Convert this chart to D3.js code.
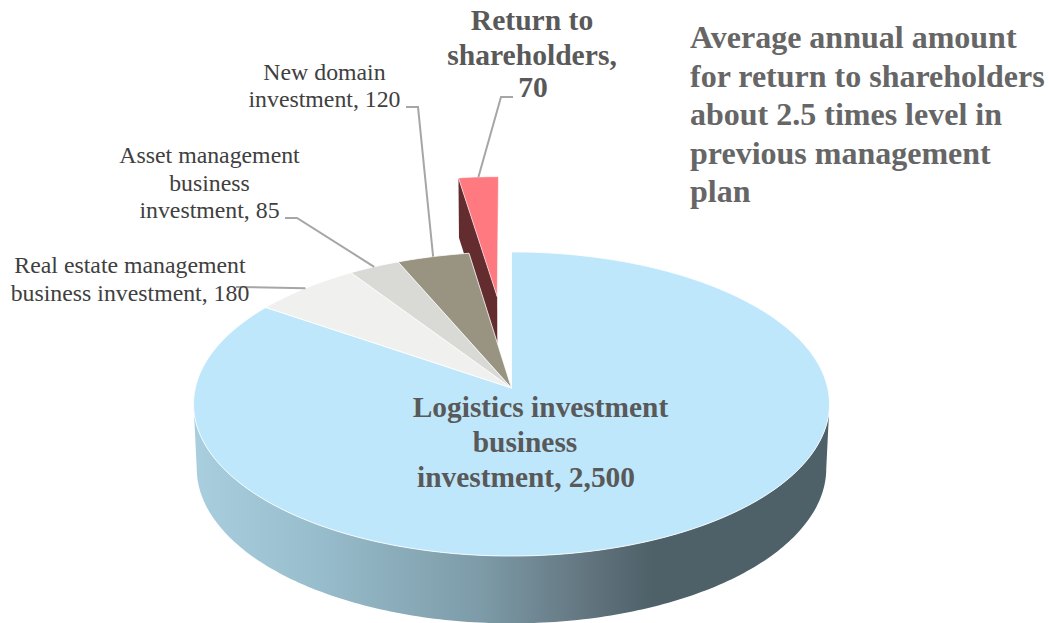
<!DOCTYPE html>
<html lang="en">
<head>
  <meta charset="UTF-8">
  <title>Investment plan</title>
  <script src="https://d3js.org/d3.v7.min.js"></script>
  <style>
    html, body { margin: 0; padding: 0; background: #fff; overflow: hidden; }
    svg { display: block; }
    text { font-family: "Liberation Serif", serif; }
  </style>
</head>
<body>
  <svg width="1049" height="623"></svg>

  <script>
    // data
    var categories = ["Logistics investment business investment", "Real estate management business investment",
      "Asset management business investment", "New domain investment", "Return to shareholders"]
    var values = [2500, 180, 85, 120, 70]
    var explode = [0, 0, 0, 0, 0.65]
    var colors = ["#bfe7fb", "#f0f0ee", "#d9d9d5", "#999482", "#ff7a80"]
    var noteLines = ["Average annual amount", "for return to shareholders", "about 2.5 times level in",
      "previous management", "plan"]

    var svg = d3.select("svg")

    // perspective of the tilted disc: k makes the near side bigger
    var k = 0.105
    var xScale = d3.scaleLinear().domain([-1, 1]).range([511.5 - 316.2, 511.5 + 316.2])
    var yScale = d3.scaleLinear().domain([-1, 1]).range([388 - 150.4, 388 + 150.4])

    function project(u, v, lower) {
      var w = 1 - k * v
      var x = xScale(u / w), y = yScale(v / w)
      if (lower) {
        x = 511.5 + (x - 511.5) * 0.99
        y = 388 + (y - 388) * 1.02 + 64
      }
      return [x, y]
    }
    // angle is clockwise from 12 o'clock, e pushes the slice out along its bisector
    function onDisc(angle, r, d, lower) {
      var mid = (d.startAngle + d.endAngle) / 2
      var e = d.explode
      return project(r * Math.sin(angle) + e * Math.sin(mid), -r * Math.cos(angle) - e * Math.cos(mid), lower)
    }
    function rim(d, a0, a1, lower) {
      var n = Math.ceil(Math.abs(a1 - a0) * 60) + 1
      return d3.range(n + 1).map(function(i) { return onDisc(a0 + (a1 - a0) * i / n, 1, d, lower) })
    }

    var pie = d3.pie().sort(null).value(function(d) { return d.value })
    var slices = pie(categories.map(function(c, i) {
      return { name: c, value: values[i], explode: explode[i], color: colors[i] }
    }))
    slices.forEach(function(d) { d.explode = d.data.explode })

    var line = d3.line()

    // wall gradient
    var grad = svg.append("defs").append("linearGradient")
      .attr("id", "wall")
      .attr("gradientUnits", "userSpaceOnUse")
      .attr("x1", 194).attr("x2", 830).attr("y1", 0).attr("y2", 0)
    var stops = [[0, "#a9cfdf"], [0.2, "#97bccb"], [0.45, "#7d9ba8"], [0.62, "#62757f"], [0.72, "#4e6068"], [1, "#4e6068"]]
    grad.selectAll("stop").data(stops).enter().append("stop")
      .attr("offset", function(d) { return d[0] })
      .attr("stop-color", function(d) { return d[1] })

    // pulled out slice goes behind the disc
    var ret = slices[4]
    var retApex = onDisc(0, 0, ret), retApexLow = onDisc(0, 0, ret, true)
    var retLeft = onDisc(ret.startAngle, 1, ret), retLeftLow = onDisc(ret.startAngle, 1, ret, true)
    svg.append("path")
      .attr("d", line([retLeft, retApex, retApexLow, retLeftLow]) + "Z")
      .attr("fill", "#632d30")
    svg.append("path")
      .attr("d", line([retApex].concat(rim(ret, ret.startAngle, ret.endAngle))) + "Z")
      .attr("fill", ret.data.color)
      .attr("stroke", "#fff").attr("stroke-width", 0.8).attr("stroke-opacity", 0.7)

    // front wall of the disc
    var a0 = Math.acos(-k), a1 = 2 * Math.PI - a0
    var wallTop = rim(slices[0], a0, a1)
    var wallLow = rim(slices[0], a1, a0, true)
    svg.append("path")
      .attr("d", line(wallTop.concat(wallLow)) + "Z")
      .attr("fill", "url(#wall)")

    // top faces
    svg.append("g").selectAll("path")
      .data(slices.slice(0, 4))
      .enter()
      .append("path")
      .attr("d", function(d) {
        return line([onDisc(0, 0, d)].concat(rim(d, d.startAngle, d.endAngle))) + "Z"
      })
      .attr("fill", function(d) { return d.data.color })
      .attr("stroke", "#fff")
      .attr("stroke-width", 1)
      .attr("stroke-opacity", 0.8)
      .attr("stroke-linejoin", "round")

    // leader lines, they end on the middle of each slice's rim
    var leaders = [
      { slice: 1, from: [[236, 287]] },
      { slice: 2, from: [[285, 218], [297, 218]] },
      { slice: 3, from: [[406, 107], [418, 107]] },
      { slice: 4, from: [[513, 97], [501, 97]] }
    ]
    svg.append("g").selectAll("path")
      .data(leaders)
      .enter()
      .append("path")
      .attr("d", function(d) {
        var s = slices[d.slice]
        return line(d.from.concat([onDisc((s.startAngle + s.endAngle) / 2, 1, s)]))
      })
      .attr("fill", "none")
      .attr("stroke", "#a6a6a6")
      .attr("stroke-width", 2)

    // labels
    var labels = [
      { t: "Logistics investment", x: 540.5, y: 417, size: 29.4, bold: true },
      { t: "business", x: 525, y: 452, size: 29.4, bold: true },
      { t: "investment, 2,500", x: 526, y: 487, size: 29.4, bold: true },
      { t: "Real estate management", x: 130, y: 273, size: 23.8 },
      { t: "business investment, 180", x: 130, y: 301, size: 23.8 },
      { t: "Asset management", x: 209.5, y: 163, size: 23.8 },
      { t: "business", x: 209.5, y: 191, size: 23.8 },
      { t: "investment, 85", x: 209.5, y: 218, size: 23.8 },
      { t: "New domain", x: 324.5, y: 80, size: 23.8 },
      { t: "investment, 120", x: 324.5, y: 107, size: 23.8 },
      { t: "Return to", x: 532, y: 30, size: 29.6, bold: true },
      { t: "shareholders,", x: 532, y: 65, size: 29.6, bold: true },
      { t: "70", x: 533, y: 97, size: 29.6, bold: true }
    ]
    svg.append("g").selectAll("text")
      .data(labels)
      .enter()
      .append("text")
      .attr("x", function(d) { return d.x })
      .attr("y", function(d) { return d.y })
      .attr("text-anchor", "middle")
      .attr("font-size", function(d) { return d.size })
      .attr("font-weight", function(d) { return d.bold ? "bold" : "normal" })
      .attr("fill", function(d) { return d.bold ? "#595959" : "#404040" })
      .text(function(d) { return d.t })

    svg.append("g").selectAll("text")
      .data(noteLines)
      .enter()
      .append("text")
      .attr("x", 690)
      .attr("y", function(d, i) { return 48 + i * 38.6 })
      .attr("font-size", 32)
      .attr("font-weight", "bold")
      .attr("fill", "#666666")
      .text(function(d) { return d })
  </script>
</body>
</html>
